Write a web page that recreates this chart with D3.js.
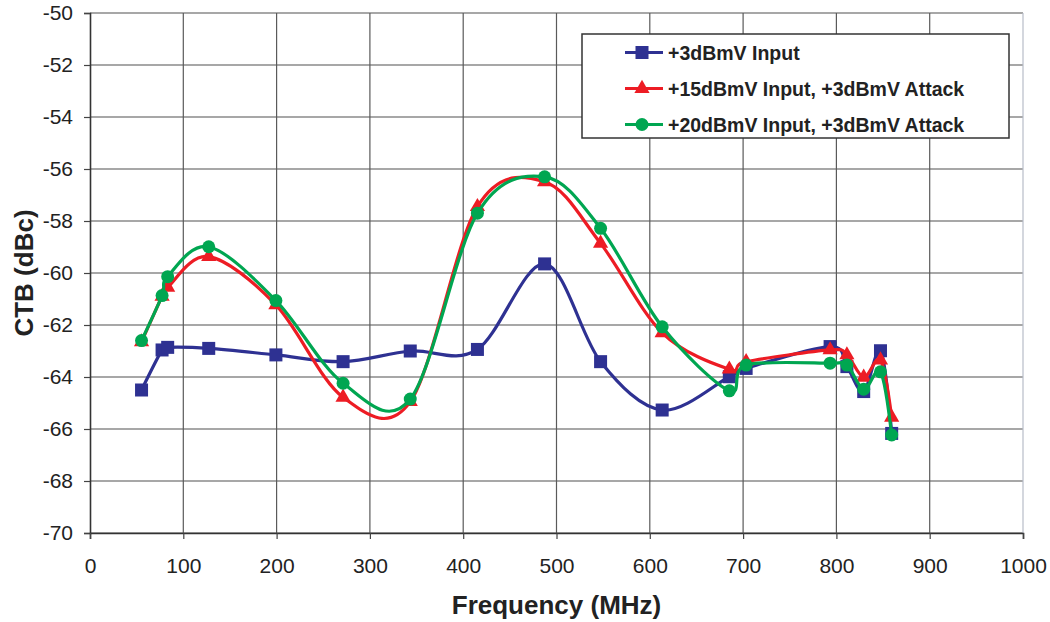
<!DOCTYPE html>
<html>
<head>
<meta charset="utf-8">
<script src="https://cdn.jsdelivr.net/npm/d3@7"></script>
<style>
  body { margin: 0; background: #fff; }
  text { font-family: "Liberation Sans", Arial, sans-serif; fill: #222; }
</style>
</head>
<body>
<div id="chart"></div>
<script>
// Frequencies (MHz) of the measured channels
const freqs = [55.25, 77.25, 83.25, 127.25, 199.25, 271.25, 343.25, 415.25, 487.25,
  547.25, 613.25, 685.25, 703.25, 793.25, 811.25, 829.25, 847.25, 859.25];

// CTB readings (dBc) for each series
const input3 = [-64.5, -62.96, -62.86, -62.9, -63.15, -63.41, -63.0, -62.94, -59.65,
  -63.41, -65.27, -63.99, -63.67, -62.83, -63.6, -64.56, -62.99, -66.17];
const input15 = [-62.65, -60.9, -60.55, -59.37, -61.23, -64.78, -64.95, -57.45, -56.49,
  -58.86, -62.3, -63.7, -63.41, -62.96, -63.15, -64.01, -63.35, -65.55];
const input20 = [-62.6, -60.87, -60.14, -58.99, -61.06, -64.24, -64.85, -57.7, -56.3,
  -58.28, -62.07, -64.53, -63.54, -63.47, -63.54, -64.47, -63.8, -66.23];

const seriesNames = ["+3dBmV Input", "+15dBmV Input, +3dBmV Attack", "+20dBmV Input, +3dBmV Attack"];
const xTicks = [0, 100, 200, 300, 400, 500, 600, 700, 800, 900, 1000];
const yTicks = [-50, -52, -54, -56, -58, -60, -62, -64, -66, -68, -70];

const W = 1050, H = 622;
const margin = { top: 13, right: 27, bottom: 89, left: 90 },
    width = W - margin.left - margin.right,
    height = H - margin.top - margin.bottom;

const colors = ["#2e3192", "#ed1c24", "#00a651"];
const shapes = ["square", "triangle", "circle"];

const svg = d3.select("#chart")
  .append("svg")
  .attr("width", W)
  .attr("height", H)
  .append("g")
  .attr("transform", `translate(${margin.left},${margin.top})`);

const x = d3.scaleLinear().domain([0, 1000]).range([0, width]);
const y = d3.scaleLinear().domain([-70, -50]).range([height, 0]);

// grid
svg.append("g")
  .selectAll("line")
  .data(yTicks)
  .enter()
  .append("line")
  .attr("x1", 0).attr("x2", width)
  .attr("y1", d => y(d)).attr("y2", d => y(d))
  .attr("stroke", "#8a8a8a")
  .attr("stroke-width", 1.4);

svg.append("g")
  .selectAll("line")
  .data(xTicks.slice(1))
  .enter()
  .append("line")
  .attr("x1", d => x(d)).attr("x2", d => x(d))
  .attr("y1", 0).attr("y2", height)
  .attr("stroke", d => d === 1000 ? "#b8bcc8" : "#5a5a5a")
  .attr("stroke-width", 1.2);

// axes (plain hyphen, no thousands separator)
const fmt = d => String(d);
const yAxis = svg.append("g")
  .call(d3.axisLeft(y).tickValues(yTicks).tickFormat(fmt).tickSize(6).tickPadding(11));
const xAxis = svg.append("g")
  .attr("transform", `translate(0,${height})`)
  .call(d3.axisBottom(x).tickValues(xTicks).tickFormat(fmt).tickSize(6).tickPadding(19));

[yAxis, xAxis].forEach(a => {
  a.select(".domain").attr("stroke", "#333").attr("stroke-width", 1.6);
  a.selectAll(".tick line").attr("stroke", "#444").attr("stroke-width", 1.2);
  a.selectAll(".tick text")
    .style("font-family", "'Liberation Sans', Arial, sans-serif")
    .style("font-size", "21px")
    .attr("fill", "#222");
});

// axis titles
svg.append("text")
  .attr("x", width / 2)
  .attr("y", height + 81)
  .attr("text-anchor", "middle")
  .style("font-size", "26px")
  .style("font-weight", "bold")
  .text("Frequency (MHz)");

svg.append("text")
  .attr("transform", `translate(${33 - margin.left},${273 - margin.top}) rotate(-90)`)
  .attr("text-anchor", "middle")
  .style("font-size", "26px")
  .style("font-weight", "bold")
  .text("CTB (dBc)");

// lines
const allSeries = [input3, input15, input20];
const line = d3.line()
  .x((d, i) => x(freqs[i]))
  .y(d => y(d))
  .curve(d3.curveCardinal.tension(0));

function drawMarker(g, shape, color, cx, cy) {
  if (shape === "square") {
    g.append("rect")
      .attr("x", cx - 6.5).attr("y", cy - 6.5)
      .attr("width", 13).attr("height", 13)
      .attr("fill", color);
  } else if (shape === "triangle") {
    g.append("path")
      .attr("d", d3.symbol().type(d3.symbolTriangle).size(100)())
      .attr("transform", `translate(${cx},${cy})`)
      .attr("fill", color);
  } else {
    g.append("circle")
      .attr("cx", cx).attr("cy", cy).attr("r", 6.5)
      .attr("fill", color);
  }
}

allSeries.forEach((vals, s) => {
  svg.append("path")
    .datum(vals)
    .attr("fill", "none")
    .attr("stroke", colors[s])
    .attr("stroke-width", 3.2)
    .attr("d", line);
  const g = svg.append("g");
  vals.forEach((v, i) => drawMarker(g, shapes[s], colors[s], x(freqs[i]), y(v)));
});

// legend
const legend = svg.append("g")
  .attr("transform", `translate(${582 - margin.left},${34 - margin.top})`);
legend.append("rect")
  .attr("width", 427).attr("height", 104)
  .attr("fill", "#fff")
  .attr("stroke", "#333")
  .attr("stroke-width", 1.5);

seriesNames.forEach((name, s) => {
  const ly = 18.5 + s * 36;
  legend.append("line")
    .attr("x1", 43).attr("x2", 81)
    .attr("y1", ly).attr("y2", ly)
    .attr("stroke", colors[s])
    .attr("stroke-width", 3);
  drawMarker(legend, shapes[s], colors[s], 60, ly);
  legend.append("text")
    .attr("x", 86)
    .attr("y", ly)
    .attr("dy", "0.36em")
    .style("font-size", "19.5px")
    .style("font-weight", "bold")
    .text(name);
});
</script>
</body>
</html>
